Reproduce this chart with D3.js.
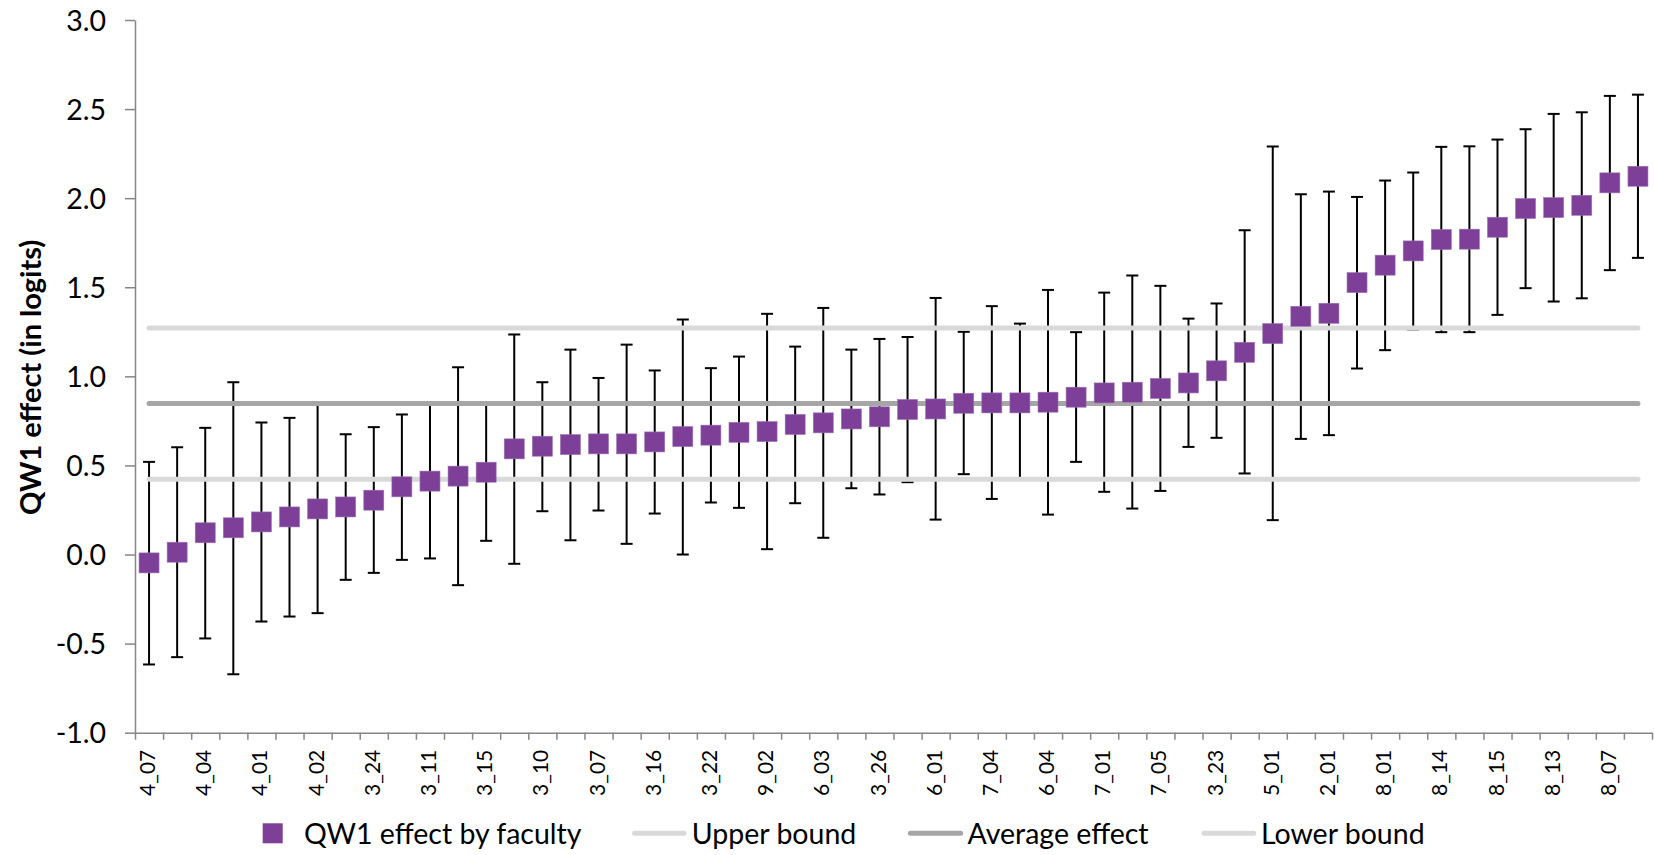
<!DOCTYPE html>
<html>
<head>
<meta charset="utf-8">
<script src="https://cdn.jsdelivr.net/npm/d3@7"></script>
<style>
  body { margin: 0; background: #ffffff; }
  svg { display: block; }
  text { font-family: Lato, "Open Sans", "Noto Sans", sans-serif; fill: #000; }
</style>
</head>
<body>
<svg id="chart" width="1654" height="855"></svg>
<script>
// ---- data ----
const labels = [
  "4_07", "", "4_04", "", "4_01", "", "4_02", "", "3_24", "",
  "3_11", "", "3_15", "", "3_10", "", "3_07", "", "3_16", "",
  "3_22", "", "9_02", "", "6_03", "", "3_26", "", "6_01", "",
  "7_04", "", "6_04", "", "7_01", "", "7_05", "", "3_23", "",
  "5_01", "", "2_01", "", "8_01", "", "8_14", "", "8_15", "",
  "8_13", "", "8_07", ""
];
const effect = [
  -0.047, 0.013, 0.122, 0.150, 0.183, 0.211, 0.256, 0.267, 0.305, 0.380,
  0.412, 0.440, 0.462, 0.593, 0.608, 0.617, 0.621, 0.621, 0.632, 0.662,
  0.670, 0.686, 0.690, 0.730, 0.739, 0.761, 0.773, 0.814, 0.817, 0.849,
  0.851, 0.851, 0.855, 0.883, 0.907, 0.911, 0.932, 0.963, 1.031, 1.135,
  1.240, 1.337, 1.354, 1.526, 1.624, 1.704, 1.768, 1.770, 1.837, 1.942,
  1.947, 1.960, 2.086, 2.123
];
const upper = [
  0.520, 0.602, 0.711, 0.967, 0.741, 0.767, 0.840, 0.675, 0.715, 0.786,
  0.840, 1.051, 0.840, 1.235, 0.967, 1.150, 0.991, 1.178, 1.033, 1.319,
  1.046, 1.111, 1.351, 1.167, 1.384, 1.150, 1.210, 1.221, 1.440, 1.250,
  1.394, 1.296, 1.485, 1.248, 1.470, 1.566, 1.508, 1.324, 1.409, 1.820,
  2.290, 2.022, 2.037, 2.007, 2.099, 2.144, 2.288, 2.291, 2.329, 2.387,
  2.473, 2.482, 2.574, 2.581
];
const lower = [
  -0.617, -0.576, -0.471, -0.672, -0.376, -0.348, -0.329, -0.142, -0.103, -0.030,
  -0.022, -0.172, 0.077, -0.052, 0.243, 0.080, 0.247, 0.060, 0.230, 0.000,
  0.292, 0.262, 0.030, 0.288, 0.094, 0.372, 0.337, 0.406, 0.196, 0.451,
  0.312, 0.420, 0.224, 0.520, 0.352, 0.258, 0.357, 0.604, 0.655, 0.455,
  0.193, 0.649, 0.670, 1.044, 1.147, 1.263, 1.248, 1.248, 1.345, 1.495,
  1.420, 1.438, 1.596, 1.665
];
const upperBound = 1.272;
const averageEffect = 0.847;
const lowerBound = 0.422;
const yTicks = [-1.0, -0.5, 0.0, 0.5, 1.0, 1.5, 2.0, 2.5, 3.0];
const yTitle = "QW1 effect (in logits)";
const legendNames = ["QW1 effect by faculty", "Upper bound", "Average effect", "Lower bound"];

// ---- layout ----
const plot = { left: 135, right: 1652, top: 20, bottom: 732.7 };
const purple = "#7d3f98";
const lightGrey = "#d9d9d9";
const midGrey = "#a6a6a6";
const axisGrey = "#868686";

const svg = d3.select("#chart");
const n = labels.length;
const idx = d3.range(n);

const x = d3.scaleBand().domain(idx).range([plot.left, plot.right]).paddingInner(0).paddingOuter(0);
const xEdge = d3.scaleLinear().domain([0, n]).range([plot.left, plot.right]);
const y = d3.scaleLinear().domain([-1, 3]).range([plot.bottom, plot.top]);
const cx = i => x(i) + x.bandwidth() / 2;

// ---- y axis ----
const yAxis = svg.append("g")
  .attr("transform", `translate(${plot.left},0)`)
  .call(d3.axisLeft(y).tickValues(yTicks).tickSize(10).tickSizeOuter(0).tickPadding(19)
    .tickFormat(d => d.toFixed(1)));
yAxis.selectAll("path.domain").attr("stroke", axisGrey).attr("stroke-width", 1.5);
yAxis.selectAll(".tick line").attr("stroke", axisGrey).attr("stroke-width", 1.5);
yAxis.selectAll(".tick text").attr("font-size", 28.5).attr("dy", "0.36em")
  .style("font-family", "Lato, 'Open Sans', sans-serif").attr("fill", "#000");

// ---- x axis (ticks at category boundaries) ----
const xAxis = svg.append("g")
  .attr("transform", `translate(0,${plot.bottom})`)
  .call(d3.axisBottom(xEdge).tickValues(d3.range(n + 1)).tickSize(7).tickSizeOuter(0).tickFormat(""));
xAxis.selectAll("path.domain").attr("stroke", axisGrey).attr("stroke-width", 1.5);
xAxis.selectAll(".tick line").attr("stroke", axisGrey).attr("stroke-width", 1.5);

// category labels (every other one is shown)
const xLab = svg.append("g")
  .attr("transform", `translate(0,${plot.bottom})`)
  .call(d3.axisBottom(x).tickSize(0).tickFormat(i => labels[i]));
xLab.select("path.domain").remove();
xLab.selectAll(".tick text")
  .attr("x", 0).attr("y", 0).attr("dy", "0.36em")
  .attr("text-anchor", "end")
  .attr("transform", "translate(-1.5,17) rotate(-90)")
  .attr("font-size", 21)
  .style("font-family", "Lato, 'Open Sans', sans-serif")
  .attr("fill", "#000");

// ---- y title ----
svg.append("text")
  .attr("transform", `translate(31,${(plot.top + plot.bottom) / 2 + 1}) rotate(-90)`)
  .attr("text-anchor", "middle")
  .attr("dy", "0.36em")
  .attr("font-size", 29)
  .attr("font-weight", "bold")
  .text(yTitle);

// ---- error bars ----
const capW = 12;
const eb = svg.append("g").attr("stroke", "#000").attr("stroke-width", 2);
eb.selectAll("line.v").data(idx).join("line").attr("class", "v")
  .attr("x1", cx).attr("x2", cx)
  .attr("y1", i => y(lower[i])).attr("y2", i => y(upper[i]));
eb.selectAll("line.cu").data(idx).join("line").attr("class", "cu")
  .attr("x1", i => cx(i) - capW / 2).attr("x2", i => cx(i) + capW / 2)
  .attr("y1", i => y(upper[i])).attr("y2", i => y(upper[i]));
eb.selectAll("line.cl").data(idx).join("line").attr("class", "cl")
  .attr("x1", i => cx(i) - capW / 2).attr("x2", i => cx(i) + capW / 2)
  .attr("y1", i => y(lower[i])).attr("y2", i => y(lower[i]));

// ---- reference lines ----
const refLines = [
  { v: upperBound, c: lightGrey },
  { v: averageEffect, c: midGrey },
  { v: lowerBound, c: lightGrey }
];
const line = d3.line().x(d => cx(d[0])).y(d => y(d[1]));
svg.append("g").selectAll("path").data(refLines).join("path")
  .attr("d", r => line([[0, r.v], [n - 1, r.v]]))
  .attr("fill", "none")
  .attr("stroke", r => r.c)
  .attr("stroke-width", 5)
  .attr("stroke-linecap", "round");

// ---- markers ----
const ms = 20;
svg.append("g").selectAll("rect").data(idx).join("rect")
  .attr("x", i => cx(i) - ms / 2)
  .attr("y", i => y(effect[i]) - ms / 2)
  .attr("width", ms).attr("height", ms)
  .attr("fill", purple)
  .attr("stroke", "#9b72b3").attr("stroke-width", 0.6);

// ---- legend ----
const legY = 833.3;
const lg = svg.append("g");
lg.append("rect").attr("x", 262.7).attr("y", legY - 10).attr("width", 20).attr("height", 20).attr("fill", purple);
lg.append("text").attr("x", 304).attr("y", legY).attr("dy", "0.36em").attr("font-size", 28.5).text(legendNames[0]);
const legLines = [
  { x0: 634.5, x1: 684, tx: 691.8, c: lightGrey, name: legendNames[1] },
  { x0: 910.4, x1: 960.7, tx: 967.5, c: midGrey, name: legendNames[2] },
  { x0: 1204, x1: 1253.7, tx: 1260.9, c: lightGrey, name: legendNames[3] }
];
legLines.forEach(d => {
  lg.append("line").attr("x1", d.x0).attr("x2", d.x1).attr("y1", legY).attr("y2", legY)
    .attr("stroke", d.c).attr("stroke-width", 5).attr("stroke-linecap", "round");
  lg.append("text").attr("x", d.tx).attr("y", legY).attr("dy", "0.36em").attr("font-size", 28.5).text(d.name);
});
</script>
</body>
</html>
